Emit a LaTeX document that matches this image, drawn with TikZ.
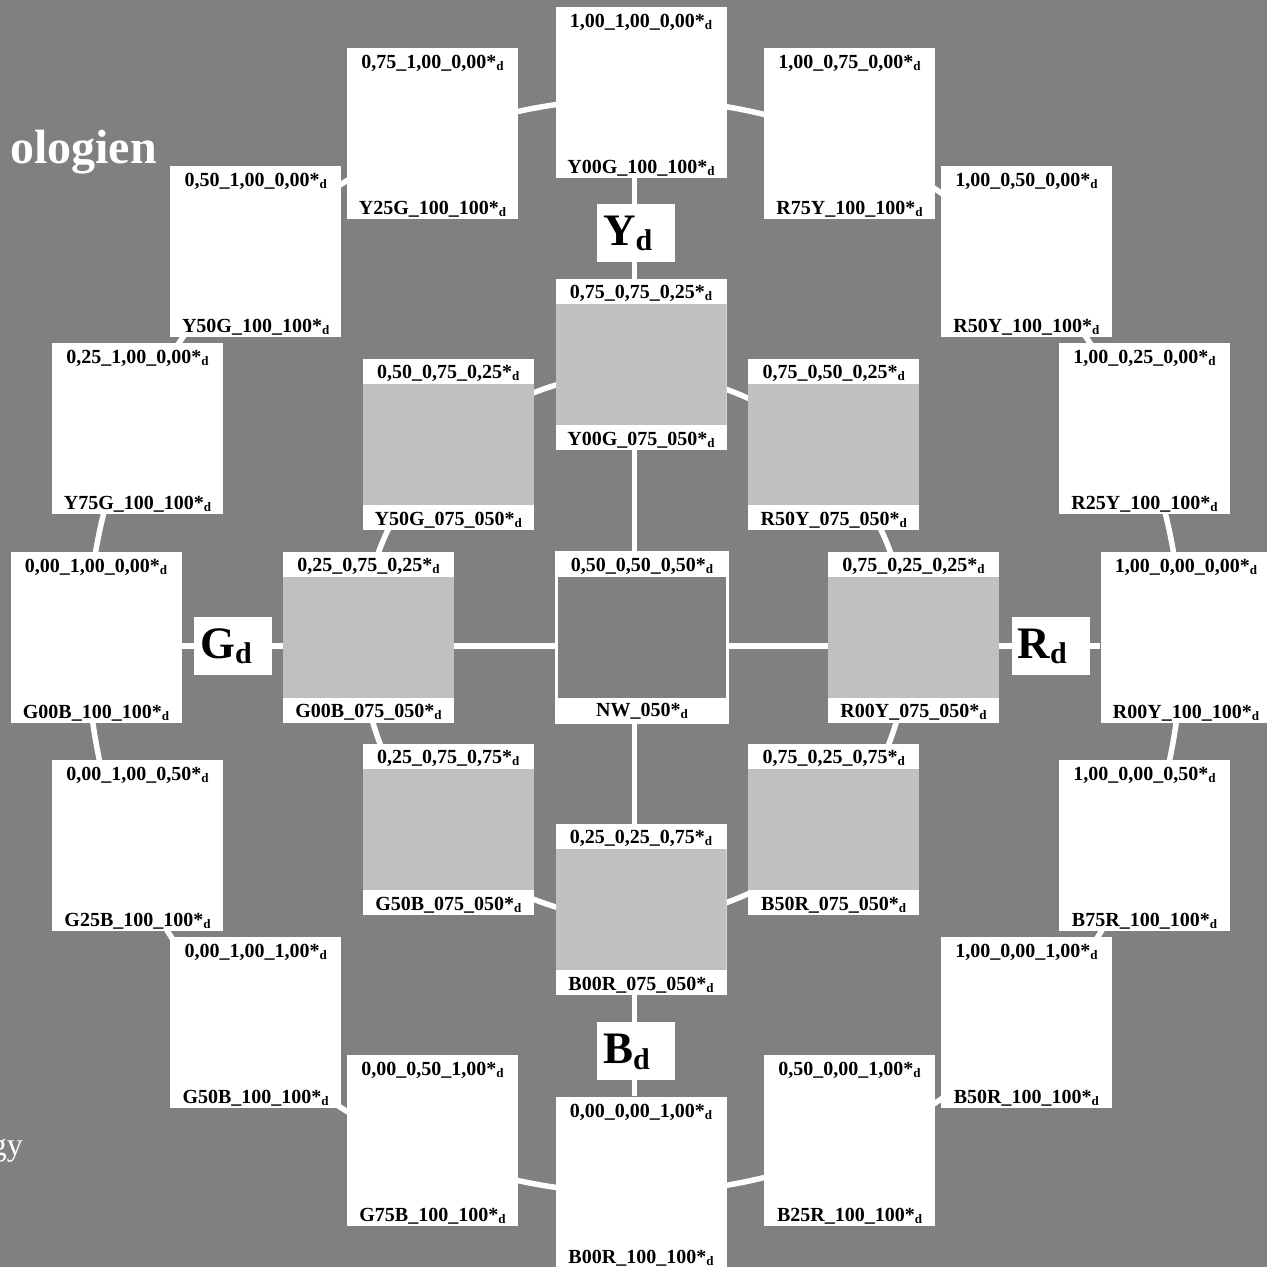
\documentclass[tikz,border=0pt]{standalone}
\usepackage{fontspec}
\setmainfont{Liberation Serif}
\usetikzlibrary{calc}
\definecolor{bggray}{RGB}{128,128,128}
\definecolor{litegray}{RGB}{192,192,192}
\newcommand\dlow{\raisebox{-2pt}{\fontsize{13}{13}\selectfont d}}
\newcommand\dlowbig{\raisebox{-5.5pt}{\fontsize{30}{30}\selectfont d}}
\pgfdeclarelayer{back}
\pgfdeclarelayer{wires}
\pgfsetlayers{back,wires,main}

\begin{document}
\begin{tikzpicture}[
  x=1pt, y=-1pt,
  rim/.style={fill=white, minimum width=171pt, minimum height=171pt, inner sep=0pt},
  tint/.style={rim, path picture={\fill[litegray]
      ([yshift=-25pt]path picture bounding box.north west) rectangle
      ([yshift=25pt]path picture bounding box.south east);}},
  hole/.style={rim, minimum width=174pt, minimum height=173pt,
    path picture={\fill[bggray]
      ([xshift=3pt,yshift=-26pt]path picture bounding box.north west) rectangle
      ([xshift=-3pt,yshift=26pt]path picture bounding box.south east);}},
  cmy/.style={anchor=base, inner sep=0pt, font=\bfseries\fontsize{20}{20}\selectfont},
  pole/.style={fill=white, text width=66pt, inner xsep=6pt, inner ysep=0pt,
    minimum height=58pt, text height=30pt, text depth=5pt, align=left,
    font=\bfseries\fontsize{45}{45}\selectfont},
  wire/.style={draw=white, line width=5.5pt},
  banner/.style={text=white, inner sep=0pt, anchor=base east},
]
  \useasboundingbox (0,0) rectangle (1267,1267);
  \begin{pgfonlayer}{back}
    \fill[bggray] (0,0) rectangle (1267,1267);
  \end{pgfonlayer}

  % clipped titles at the left edge
  \node[banner, font=\bfseries\fontsize{48}{48}\selectfont] (ttl) at (157,163) {ologien};
  \node[banner, font=\fontsize{32}{32}\selectfont] (sub) at (23,1155) {gy};

  % outer ring, full colours
  \foreach \a/\k/\lbl in {0/Y00G/{1,00\_1,00\_0,00}, 22.5/R75Y/{1,00\_0,75\_0,00},
      45/R50Y/{1,00\_0,50\_0,00}, 67.5/R25Y/{1,00\_0,25\_0,00},
      90/R00Y/{1,00\_0,00\_0,00}, 112.5/B75R/{1,00\_0,00\_0,50},
      135/B50R/{1,00\_0,00\_1,00}, 157.5/B25R/{0,50\_0,00\_1,00},
      180/B00R/{0,00\_0,00\_1,00}, 202.5/G75B/{0,00\_0,50\_1,00},
      225/G50B/{0,00\_1,00\_1,00}, 247.5/G25B/{0,00\_1,00\_0,50},
      270/G00B/{0,00\_1,00\_0,00}, 292.5/Y75G/{0,25\_1,00\_0,00},
      315/Y50G/{0,50\_1,00\_0,00}, 337.5/Y25G/{0,75\_1,00\_0,00}}{
    \node[rim] (\k-100) at ({641+545*sin(\a)},{637-545*cos(\a)}) {};
    \node[cmy] (\k-100-top) at ([yshift=-21pt]\k-100.north) {\lbl*\dlow};
    \node[cmy] (\k-100-bot) at ([yshift=4.5pt]\k-100.south) {\k\_100\_100*\dlow};
  }

  % inner ring, reduced colours
  \foreach \a/\k/\lbl in {0/Y00G/{0,75\_0,75\_0,25}, 45/R50Y/{0,75\_0,50\_0,25},
      90/R00Y/{0,75\_0,25\_0,25}, 135/B50R/{0,75\_0,25\_0,75},
      180/B00R/{0,25\_0,25\_0,75}, 225/G50B/{0,25\_0,75\_0,75},
      270/G00B/{0,25\_0,75\_0,25}, 315/Y50G/{0,50\_0,75\_0,25}}{
    \node[tint] (\k-075) at ({641+272.5*sin(\a)},{637-272.5*cos(\a)}) {};
    \node[cmy] (\k-075-top) at ([yshift=-20pt]\k-075.north) {\lbl*\dlow};
    \node[cmy] (\k-075-bot) at ([yshift=5pt]\k-075.south) {\k\_075\_050*\dlow};
  }

  % neutral centre
  \node[hole] (NW-050) at (642,637.5) {};
  \node[cmy] (NW-050-top) at ([yshift=-21pt]NW-050.north) {0,50\_0,50\_0,50*\dlow};
  \node[cmy] (NW-050-bot) at ([yshift=8pt]NW-050.south) {NW\_050*\dlow};

  % axis letters
  \node[pole] (Yd) at (636,232.5) {Y\dlowbig};
  \node[pole] (Gd) at (233,645.5) {G\dlowbig};
  \node[pole] (Rd) at (1050.5,645.5) {R\dlowbig};
  \node[pole] (Bd) at (636,1051) {B\dlowbig};

  \coordinate (hub) at (634.5,646);
  \begin{pgfonlayer}{wires}
    \draw[wire] (hub) circle[radius=547pt];
    \draw[wire] (hub) circle[radius=272.5pt];
    \draw[wire] (Y00G-100.south -| hub) -- (B00R-100.north -| hub);
    \draw[wire] (G00B-100.east |- hub) -- (R00Y-100.west |- hub);
  \end{pgfonlayer}
\end{tikzpicture}
\end{document}
